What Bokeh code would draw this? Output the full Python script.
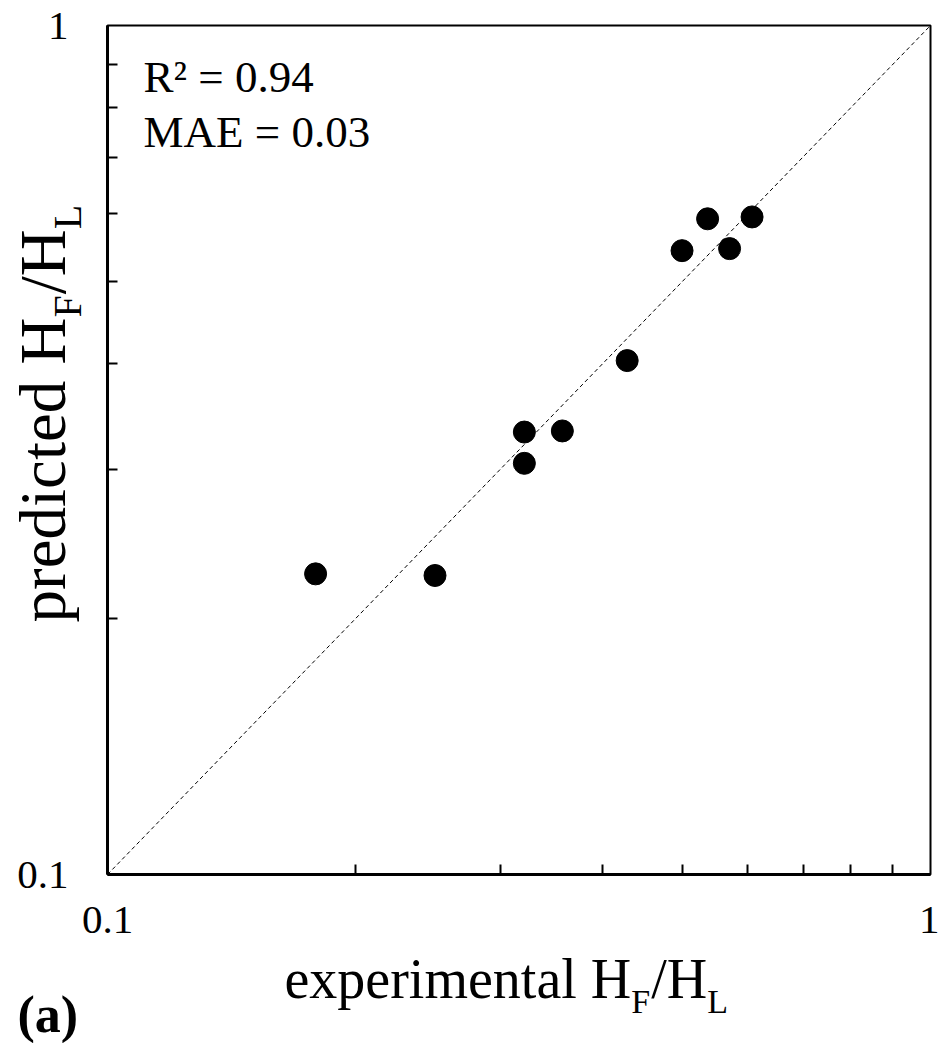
import math

from bokeh.embed import file_html
from bokeh.models import BoxAnnotation, CustomJSTickFormatter, FixedTicker, Label
from bokeh.plotting import figure
from bokeh.resources import INLINE

# Measured vs. model-predicted H_F/H_L ratios
experimental = [0.179, 0.250, 0.321, 0.321, 0.357, 0.428, 0.499, 0.536, 0.570, 0.607]
predicted = [0.226, 0.225, 0.332, 0.305, 0.333, 0.403, 0.543, 0.592, 0.546, 0.595]

# y = x parity line across the axis range
parity = [0.1, 1.0]

major_ticks = [0.1, 1.0]
minor_ticks = [0.2, 0.3, 0.4, 0.5, 0.6, 0.7, 0.8, 0.9]

stats_lines = ["R\u00b2 = 0.94", "MAE = 0.03"]
panel_tag = "(a)"

W, H = 939, 1043
# pixel box of the 0.1..1 decade on the canvas
BOX_L, BOX_R, BOX_T, BOX_B = 107, 930, 25, 874
SERIF = "Liberation Serif"
# Label anchors sit below the glyph baseline by roughly this fraction of the font size
BASELINE_FIX = 0.35

# extend the log ranges so the decade box lands on the pixel box above,
# leaving the margins inside the frame for the titles
dec_x = BOX_R - BOX_L
dec_y = BOX_B - BOX_T
x_range = (0.1 * 10 ** (-BOX_L / dec_x), 10 ** ((W - BOX_R) / dec_x))
y_range = (0.1 * 10 ** (-(H - BOX_B) / dec_y), 10 ** (BOX_T / dec_y))

p = figure(
    width=W, height=H, title=None,
    x_axis_type="log", y_axis_type="log",
    x_range=x_range, y_range=y_range,
    min_border=0,
    output_backend="svg", toolbar_location=None,
    background_fill_color="white", border_fill_color="white",
)
p.grid.visible = False
p.outline_line_color = None

for ax in (p.xaxis[0], p.yaxis[0]):
    ax.fixed_location = 0.1
    ax.bounds = (0.1, 1.0)
    ax.ticker = FixedTicker(ticks=major_ticks, minor_ticks=minor_ticks)
    ax.formatter = CustomJSTickFormatter(code="return String(Number(tick.toPrecision(6)))")
    ax.axis_line_width = 3
    ax.axis_line_color = "black"
    ax.major_tick_in = 0
    ax.major_tick_out = 0
    ax.minor_tick_in = 10
    ax.minor_tick_out = 0
    ax.minor_tick_line_width = 2
    ax.minor_tick_line_color = "black"
    ax.major_label_text_font = SERIF
    ax.major_label_text_font_size = "41px"
    ax.major_label_text_color = "black"
p.xaxis.major_label_standoff = 32
p.yaxis.major_label_standoff = 39

# top and right edges of the plot box
p.add_layout(BoxAnnotation(left=0.1, right=1.0, bottom=0.1, top=1.0,
                           fill_alpha=0, line_color="black", line_alpha=1.0,
                           line_width=2, level="underlay"))

p.line(parity, parity, line_color="black", line_width=1, line_dash="4 3")
p.scatter(experimental, predicted, marker="circle", size=22,
          fill_color="black", line_color="black")

# Times-compatible advance widths (em) for composing titles with subscripts
ADV = {
    "e": 0.444, "x": 0.5, "p": 0.5, "r": 0.333, "i": 0.278, "m": 0.778,
    "n": 0.5, "t": 0.278, "a": 0.444, "l": 0.278, " ": 0.25, "H": 0.722,
    "F": 0.556, "/": 0.278, "L": 0.611, "d": 0.5, "c": 0.444,
}


def text_width(s, size):
    return sum(ADV[c] for c in s) * size


def put(text, cx, cy, size, angle=0.0, bold=False):
    """Place text with its glyph baseline starting near canvas pixel (cx, cy)."""
    fix = BASELINE_FIX * size
    if angle:
        cx -= fix
    else:
        cy -= fix
    p.add_layout(Label(
        x=cx, y=H - cy,
        x_units="screen", y_units="screen",
        text=text, text_font=SERIF, text_font_size=f"{size}px",
        text_font_style="bold" if bold else "normal",
        text_color="black", text_align="left", text_baseline="alphabetic",
        angle=angle,
    ))


def rich(parts, cx, cy, size, sub_size, shift, vertical=False):
    along = (0, -1) if vertical else (1, 0)
    down = (1, 0) if vertical else (0, 1)
    pos = 0.0
    for s, is_sub in parts:
        fs = sub_size if is_sub else size
        off = shift if is_sub else 0
        x = cx + along[0] * pos + down[0] * off
        y = cy + along[1] * pos + down[1] * off
        put(s, x, y, fs, angle=math.pi / 2 if vertical else 0.0)
        pos += text_width(s, fs) + (1 if is_sub else 0)


rich([("experimental H", False), ("F", True), ("/H", False), ("L", True)],
     284, 998, 56, 34, 15)
rich([("predicted H", False), ("F", True), ("/H", False), ("L", True)],
     65, 622, 65, 40, 16, vertical=True)

for i, line in enumerate(stats_lines):
    put(line, 143, 92 + 55 * i, 45)

put(panel_tag, 17, 1032, 52, bold=True)

open("out.html", "w").write(file_html(p, INLINE))
